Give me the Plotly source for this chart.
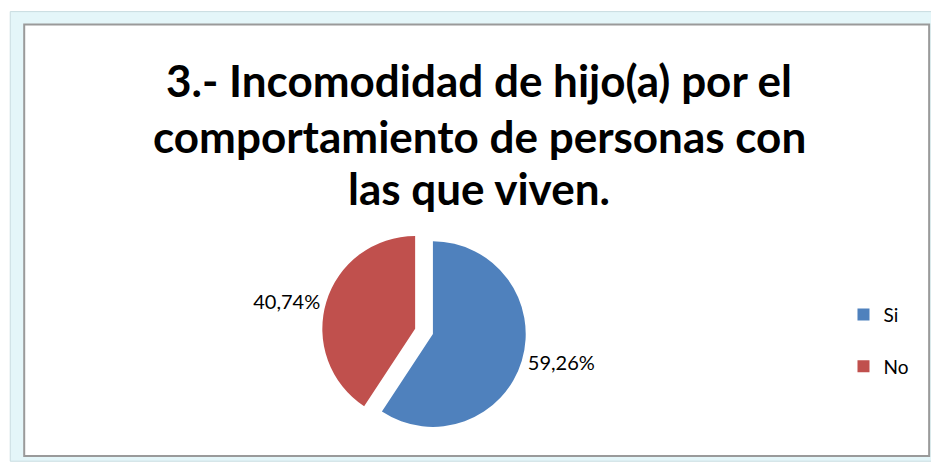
import plotly.graph_objects as go

categories = ["Si", "No"]
values = [59.26, 40.74]
colors = ["#4F81BD", "#C0504D"]
title_lines = ["3.- Incomodidad de hijo(a) por el",
               "comportamiento de personas con",
               "las que viven."]

labels_txt = [f"{v:.2f}%".replace(".", ",") for v in values]

fig = go.Figure()
fig.add_trace(go.Pie(
    labels=categories, values=values, sort=False, direction="clockwise",
    rotation=0, pull=[0, 0.2],
    marker=dict(colors=colors, line=dict(color="#FFFFFF", width=0)),
    text=labels_txt, textinfo="text", textposition="outside",
    textfont=dict(family="Lato, Open Sans, sans-serif", size=20, color="#000000"),
    domain=dict(x=[0.3, 0.63], y=[0.04, 0.52]),
    showlegend=False, hoverinfo="label+percent",
))
# legend entries
for name, c in zip(categories, colors):
    fig.add_trace(go.Scatter(
        x=[None], y=[None], mode="markers", name=name, legendgroup=name,
        marker=dict(symbol="square", size=12, color=c),
    ))

title_y = [0.828, 0.707, 0.594]
annotations = [dict(text=t, x=0.515, y=yy, xref="paper", yref="paper",
                    xanchor="center", yanchor="middle", showarrow=False,
                    font=dict(family="Lato, sans-serif", size=44, color="#000",
                              weight="bold"))
               for t, yy in zip(title_lines, title_y)]

fig.update_layout(
    width=931, height=469,
    margin=dict(l=0, r=0, t=0, b=0),
    paper_bgcolor="white", plot_bgcolor="white",
    xaxis=dict(visible=False), yaxis=dict(visible=False),
    showlegend=True,
    legend=dict(x=0.906, y=0.266, xanchor="left", yanchor="middle",
                font=dict(family="Lato, Open Sans, sans-serif", size=19, color="#000"),
                tracegroupgap=24, itemwidth=30, bgcolor="rgba(0,0,0,0)"),
    annotations=annotations,
)
# Excel frame decoration (paper shapes)
fig.add_shape(type="rect", xref="paper", yref="paper", x0=0.011, x1=1.01, y0=0.006, y1=0.975,
              line=dict(color="#C8DCE0", width=1), fillcolor="#E4F6F9", layer="below")
fig.add_shape(type="rect", xref="paper", yref="paper", x0=0.026, x1=0.998, y0=0.017, y1=0.947,
              line=dict(color="#9A9A9A", width=2), fillcolor="white", layer="below")
fig.write_html("out.html", config={"displayModeBar": False},
               post_script="document.body.style.margin='0px';document.body.style.overflow='hidden';")
